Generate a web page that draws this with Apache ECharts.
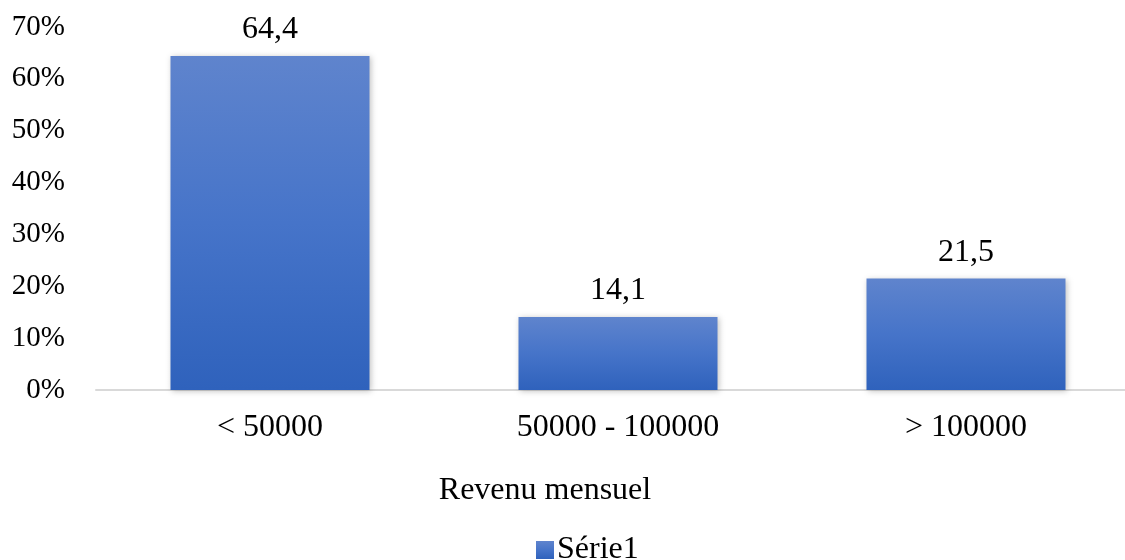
<!DOCTYPE html>
<html>
<head>
<meta charset="utf-8">
<script src="https://cdn.jsdelivr.net/npm/echarts@6/dist/echarts.min.js"></script>
<style>
  html, body { margin: 0; padding: 0; background: #ffffff; }
  #chart { width: 1125px; height: 560px; }
</style>
</head>
<body>
<div id="chart"></div>
<script>
// Monthly income brackets and share of respondents (%)
const categories = ['< 50000', '50000 - 100000', '> 100000'];
const values = [64.4, 14.1, 21.5];
const seriesName = 'Série1';
const axisTitle = 'Revenu mensuel';

const FONT = '"Liberation Serif", "Times New Roman", serif';
const FS = 32;

const chart = echarts.init(document.getElementById('chart'));

chart.setOption({
  animation: false,
  backgroundColor: '#ffffff',
  grid: { left: 96, top: 27, width: 1044, height: 363, outerBoundsMode: 'none', containLabel: false },
  title: {
    text: axisTitle,
    left: 540, top: 470,
    textAlign: 'center',
    textStyle: { fontFamily: FONT, fontSize: FS, fontWeight: 'normal', color: '#000' }
  },
  legend: {
    data: [seriesName],
    left: 531, top: 529,
    itemWidth: 18, itemHeight: 18, itemGap: 4,
    icon: 'rect',
    textStyle: { fontFamily: FONT, fontSize: FS, color: '#000', padding: [0, 0, 0, -2] }
  },
  xAxis: {
    type: 'category',
    data: categories,
    axisLine: { lineStyle: { color: '#d9d9d9', width: 2 } },
    axisTick: { show: false },
    axisLabel: { fontFamily: FONT, fontSize: FS, color: '#000', margin: 22 }
  },
  yAxis: {
    type: 'value',
    min: 0, max: 70, interval: 10,
    axisLine: { show: false },
    axisTick: { show: false },
    splitLine: { show: false },
    axisLabel: {
      fontFamily: FONT, fontSize: 29, color: '#000', margin: 31,
      formatter: v => v + '%'
    }
  },
  series: [{
    name: seriesName,
    type: 'bar',
    data: values,
    barWidth: 199,
    itemStyle: {
      color: new echarts.graphic.LinearGradient(0, 0, 0, 1, [
        { offset: 0, color: '#5f84cd' },
        { offset: 0.5, color: '#4674c9' },
        { offset: 1, color: '#2f62bc' }
      ]),
      shadowColor: 'rgba(0,0,0,0.25)',
      shadowBlur: 6,
      shadowOffsetX: 1,
      shadowOffsetY: 1
    },
    label: {
      show: true,
      position: 'top',
      distance: 10,
      fontFamily: FONT, fontSize: FS, color: '#000',
      formatter: p => String(p.value).replace('.', ',')
    }
  }]
});
</script>
</body>
</html>
